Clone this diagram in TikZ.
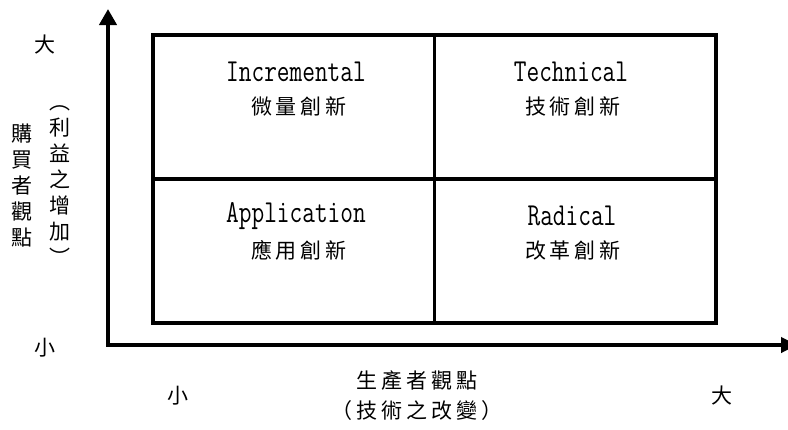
\documentclass[tikz,border=0pt]{standalone}
\usepackage{graphicx}
\usepackage{fontspec}
\newfontfamily\cjk[LetterSpace=19]{Noto Sans CJK TC}
\newfontfamily\cjkv{Noto Sans CJK TC}
\usetikzlibrary{arrows.meta}
\newcommand{\lat}[1]{\scalebox{0.77}[1]{\ttfamily\fontsize{32}{32}\selectfont #1}}
\begin{document}
\begin{tikzpicture}[x=1pt,y=-1pt,
  quad/.style={draw=black, line width=3.5pt, minimum width=281.5pt, minimum height=144pt, inner sep=0pt, anchor=north west},
  cjktext/.style={font=\cjk\fontsize{21}{21}\selectfont, inner sep=0pt, text=black},
  vcol/.style={font=\cjkv\fontsize{21}{26}\selectfont, inner sep=0pt, align=center},
  lattext/.style={inner sep=0pt}
  ]
\useasboundingbox (0,0) rectangle (788,429);
% axes
\coordinate (origin) at (108,345);
\coordinate (ytop) at (108,9);
\coordinate (xend) at (797,345);
\draw[line width=4.5pt, line join=miter, {Triangle[length=16pt,width=17pt]}-{Triangle[length=16pt,width=15pt]}] (ytop) |- (xend);
% quadrants
\node[quad] (q1) at (151,33) {};
\node[quad] (q2) at (432.5,33) {};
\node[quad] (q3) at (151,177) {};
\node[quad] (q4) at (432.5,177) {};
% quadrant texts
\node[lattext] (t1) at (296,72) {\lat{Incremental}};
\node[cjktext] (c1) at (299,106) {微量創新};
\node[lattext] (t2) at (571,72) {\lat{Technical}};
\node[cjktext] (c2) at (573,106) {技術創新};
\node[lattext] (t3) at (296,216) {\lat{Application}};
\node[cjktext] (c3) at (299,250) {應用創新};
\node[lattext] (t4) at (572,216) {\lat{Radical}};
\node[cjktext] (c4) at (573,250) {改革創新};
% y-axis labels
\node[cjktext] (ybig) at (45,45) {大};
\node[cjktext] (ysmall) at (45,348) {小};
\node[vcol] (ylab1) at (22,186) {購\\買\\者\\觀\\點};
\node[vcol] (ylab2) at (60,186) {︵\\利\\益\\之\\增\\加\\︶};
% x-axis labels
\node[cjktext] (xsmall) at (178,396) {小};
\node[cjktext] (xbig) at (722,396) {大};
\node[cjktext] (xlab1) at (417,381) {生產者觀點};
\node[cjktext] (xlab2) at (417,411) {（技術之改變）};
\end{tikzpicture}
\end{document}
